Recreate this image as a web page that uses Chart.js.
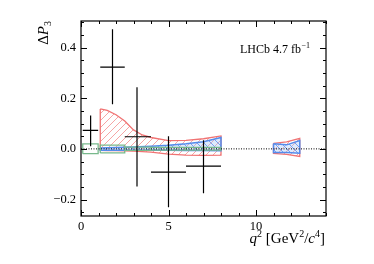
<!DOCTYPE html>
<html>
<head>
<meta charset="utf-8">
<script src="https://cdn.jsdelivr.net/npm/chart.js@4.4.0/dist/chart.umd.min.js"></script>
<style>
  html, body { margin: 0; padding: 0; background: #fff; }
</style>
</head>
<body>
<canvas id="chart" width="374" height="264"></canvas>
<script>
// LHCb data points (Delta P3 vs q2)
const p3X = [0.55, 1.8, 3.2, 5.0, 7.0];
const binLo = [0.1, 1.1, 2.5, 4.0, 6.0];
const binHi = [0.98, 2.5, 4.0, 6.0, 8.0];
const p3Val = [0.073, 0.323, 0.048, -0.092, -0.068];
const p3Top = [0.132, 0.472, 0.243, 0.050, 0.034];
const p3Bottom = [0.010, 0.176, -0.149, -0.230, -0.175];

// red hatched prediction band
const redX1 = [1.1, 1.5, 2.0, 2.5, 3.0, 3.5, 4.0, 5.0, 6.0, 7.0, 8.0];
const redUp1 = [0.158, 0.152, 0.135, 0.110, 0.075, 0.055, 0.045, 0.033, 0.034, 0.040, 0.051];
const redDn1 = [-0.006, -0.007, -0.007, -0.008, -0.009, -0.011, -0.013, -0.021, -0.025, -0.026, -0.025];
const redX2 = [11.0, 11.75, 12.5];
const redUp2 = [0.022, 0.028, 0.042];
const redDn2 = [-0.018, -0.022, -0.030];

// blue band
const blueX1 = [1.1, 2.0, 3.0, 4.0, 5.0, 6.0, 7.0, 8.0];
const blueUp1 = [0.004, 0.005, 0.007, 0.010, 0.014, 0.020, 0.028, 0.045];
const blueDn1 = [-0.005, -0.005, -0.005, -0.005, -0.005, -0.006, -0.006, -0.007];
const blueX2 = [11.0, 11.75, 12.5];
const blueUp2 = [0.020, 0.016, 0.033];
const blueDn2 = [-0.014, -0.014, -0.017];

// green boxes
const greenLo = [0.1, 1.1, 2.5, 4.0, 6.0];
const greenHi = [0.98, 2.5, 4.0, 6.0, 8.0];
const greenUp = [0.020, 0.015, 0.007, 0.006, 0.006];
const greenDn = [-0.019, -0.016, -0.006, -0.005, -0.005];

const xTicks = [0, 5, 10];
const yTicks = [-0.2, 0.0, 0.2, 0.4];

const FONT = '"Liberation Serif", "DejaVu Serif", serif';
const ctx = document.getElementById('chart').getContext('2d');

function band(xs, up, dn) {
  const pts = [];
  xs.forEach((x, i) => pts.push({x: x, y: up[i]}));
  for (let i = xs.length - 1; i >= 0; i--) pts.push({x: xs[i], y: dn[i]});
  pts.push({x: xs[0], y: up[0]});
  return pts;
}

function boxes(lo, hi, up, dn) {
  const pts = [];
  lo.forEach((x0, i) => {
    const x1 = hi[i];
    pts.push({x: x0, y: dn[i]}, {x: x0, y: up[i]}, {x: x1, y: up[i]},
             {x: x1, y: dn[i]}, {x: x0, y: dn[i]}, {x: x1, y: null});
  });
  return pts;
}

const errPts = [];
p3X.forEach((x, i) => {
  errPts.push({x: binLo[i], y: p3Val[i]}, {x: binHi[i], y: p3Val[i]}, {x: x, y: null});
  errPts.push({x: x, y: p3Bottom[i]}, {x: x, y: p3Top[i]}, {x: x, y: null});
});

const redPts = band(redX1, redUp1, redDn1).concat([{x: 9, y: null}], band(redX2, redUp2, redDn2));
const bluePts = band(blueX1, blueUp1, blueDn1).concat([{x: 9, y: null}], band(blueX2, blueUp2, blueDn2));

const redCol = 'rgb(240,115,115)';
const blueCol = 'rgb(85,140,235)';
const greenCol = 'rgb(120,185,140)';

// hatch style per dataset index
const hatchStyle = {
  3: {color: 'rgb(120,160,240)', dir: -1, step: 7, fill: 'rgba(160,195,245,0.35)'},
  4: {color: 'rgb(246,165,165)', dir: 1, step: 7}
};

const hatcher = {
  id: 'hatcher',
  beforeDatasetDraw(chart, args) {
    const hs = hatchStyle[args.index];
    if (!hs) return;
    const {ctx, chartArea: a} = chart;
    ctx.save();
    ctx.beginPath();
    let started = false;
    args.meta.data.forEach(p => {
      if (p.skip) { started = false; return; }
      if (!started) { ctx.moveTo(p.x, p.y); started = true; }
      else ctx.lineTo(p.x, p.y);
    });
    ctx.clip();
    if (hs.fill) {
      ctx.fillStyle = hs.fill;
      ctx.fillRect(a.left, a.top, a.width, a.height);
    }
    ctx.strokeStyle = hs.color;
    ctx.lineWidth = 1;
    ctx.beginPath();
    const h = a.bottom - a.top;
    for (let k = -h; k < a.width + h; k += hs.step) {
      if (hs.dir > 0) { ctx.moveTo(a.left + k, a.bottom); ctx.lineTo(a.left + k + h, a.top); }
      else { ctx.moveTo(a.left + k, a.top); ctx.lineTo(a.left + k + h, a.bottom); }
    }
    ctx.stroke();
    ctx.restore();
  }
};

const frame = {
  id: 'frame',
  afterDraw(chart) {
    const {ctx, chartArea: a, scales: {x, y}} = chart;
    ctx.save();
    ctx.strokeStyle = '#000';
    ctx.lineWidth = 1.2;
    ctx.strokeRect(a.left, a.top, a.right - a.left, a.bottom - a.top);
    ctx.lineWidth = 1;
    ctx.beginPath();
    for (let v = 0; v <= 14; v += 1) {
      const px = Math.round(x.getPixelForValue(v)) + 0.5;
      const len = v % 5 === 0 ? 6 : 3;
      ctx.moveTo(px, a.bottom); ctx.lineTo(px, a.bottom - len);
      ctx.moveTo(px, a.top); ctx.lineTo(px, a.top + len);
    }
    for (let k = -5; k <= 10; k++) {
      const py = Math.round(y.getPixelForValue(k * 0.05)) + 0.5;
      const len = k % 4 === 0 ? 6 : 3;
      ctx.moveTo(a.left, py); ctx.lineTo(a.left + len, py);
      ctx.moveTo(a.right, py); ctx.lineTo(a.right - len, py);
    }
    ctx.stroke();

    // texts
    ctx.fillStyle = '#000';
    ctx.textBaseline = 'alphabetic';
    ctx.textAlign = 'left';
    ctx.font = '12px ' + FONT;
    const lab = 'LHCb 4.7 fb';
    let tx = 240, ty = 53;
    ctx.fillText(lab, tx, ty);
    tx += ctx.measureText(lab).width;
    ctx.font = '8px ' + FONT;
    ctx.fillText('\u22121', tx + 0.5, ty - 5);

    // x title: q^2 [GeV^2/c^4], right aligned
    const parts = [
      ['italic 15px ' + FONT, 'q', 0],
      ['10px ' + FONT, '2', -6],
      ['15px ' + FONT, ' [GeV', 0],
      ['10px ' + FONT, '2', -6],
      ['15px ' + FONT, '/', 0],
      ['italic 15px ' + FONT, 'c', 0],
      ['10px ' + FONT, '4', -6],
      ['15px ' + FONT, ']', 0]
    ];
    let w = 0;
    parts.forEach(p => { ctx.font = p[0]; w += ctx.measureText(p[1]).width; });
    let px = 325 - w;
    parts.forEach(p => {
      ctx.font = p[0];
      ctx.fillText(p[1], px, 243 + p[2]);
      px += ctx.measureText(p[1]).width;
    });

    // y title: Delta P_3, rotated, end at top
    ctx.save();
    ctx.translate(48, 21);
    ctx.rotate(-Math.PI / 2);
    const yparts = [
      ['15px ' + FONT, '\u0394', 0],
      ['italic 15px ' + FONT, 'P', 0],
      ['10px ' + FONT, '3', 3]
    ];
    let yw = 0;
    yparts.forEach(p => { ctx.font = p[0]; yw += ctx.measureText(p[1]).width; });
    let yx = -yw;
    yparts.forEach(p => {
      ctx.font = p[0];
      ctx.fillText(p[1], yx, p[2]);
      yx += ctx.measureText(p[1]).width;
    });
    ctx.restore();
    ctx.restore();
  }
};

new Chart(ctx, {
  type: 'line',
  data: {
    datasets: [
      {
        data: errPts, borderColor: '#000', borderWidth: 1.2,
        pointRadius: 0, fill: false, spanGaps: false, order: 1
      },
      {
        data: [{x: 0, y: 0}, {x: 14, y: 0}], borderColor: '#000', borderWidth: 1,
        borderDash: [1, 1.5], pointRadius: 0, fill: false, order: 2
      },
      {
        data: boxes(greenLo, greenHi, greenUp, greenDn), borderColor: greenCol, borderWidth: 1.3,
        pointRadius: 0, fill: false, spanGaps: false, order: 3
      },
      {
        data: bluePts, borderColor: blueCol, borderWidth: 1.5,
        pointRadius: 0, fill: false, spanGaps: false, order: 4
      },
      {
        data: redPts, borderColor: redCol, borderWidth: 1.3,
        pointRadius: 0, fill: false, spanGaps: false, order: 5
      }
    ]
  },
  options: {
    responsive: false,
    animation: false,
    devicePixelRatio: 1,
    layout: { padding: { left: 0, right: 48, top: 21, bottom: 0 } },
    plugins: { legend: { display: false }, tooltip: { enabled: false } },
    scales: {
      x: {
        type: 'linear', min: 0, max: 14,
        grid: { display: false, drawTicks: false },
        border: { display: false },
        afterBuildTicks: s => { s.ticks = xTicks.map(v => ({value: v})); },
        afterFit: s => { s.height = 48; },
        ticks: {
          padding: 3, color: '#000', maxRotation: 0,
          font: { family: FONT, size: 12.5 },
          callback: v => String(v)
        }
      },
      y: {
        type: 'linear', min: -0.265, max: 0.505,
        grid: { display: false, drawTicks: false },
        border: { display: false },
        afterBuildTicks: s => { s.ticks = yTicks.map(v => ({value: v})); },
        afterFit: s => { s.width = 81; },
        ticks: {
          padding: 5, color: '#000',
          font: { family: FONT, size: 12.5 },
          callback: v => (v < -1e-9 ? '\u2212' : '') + Math.abs(v).toFixed(1)
        }
      }
    }
  },
  plugins: [hatcher, frame]
});
</script>
</body>
</html>
